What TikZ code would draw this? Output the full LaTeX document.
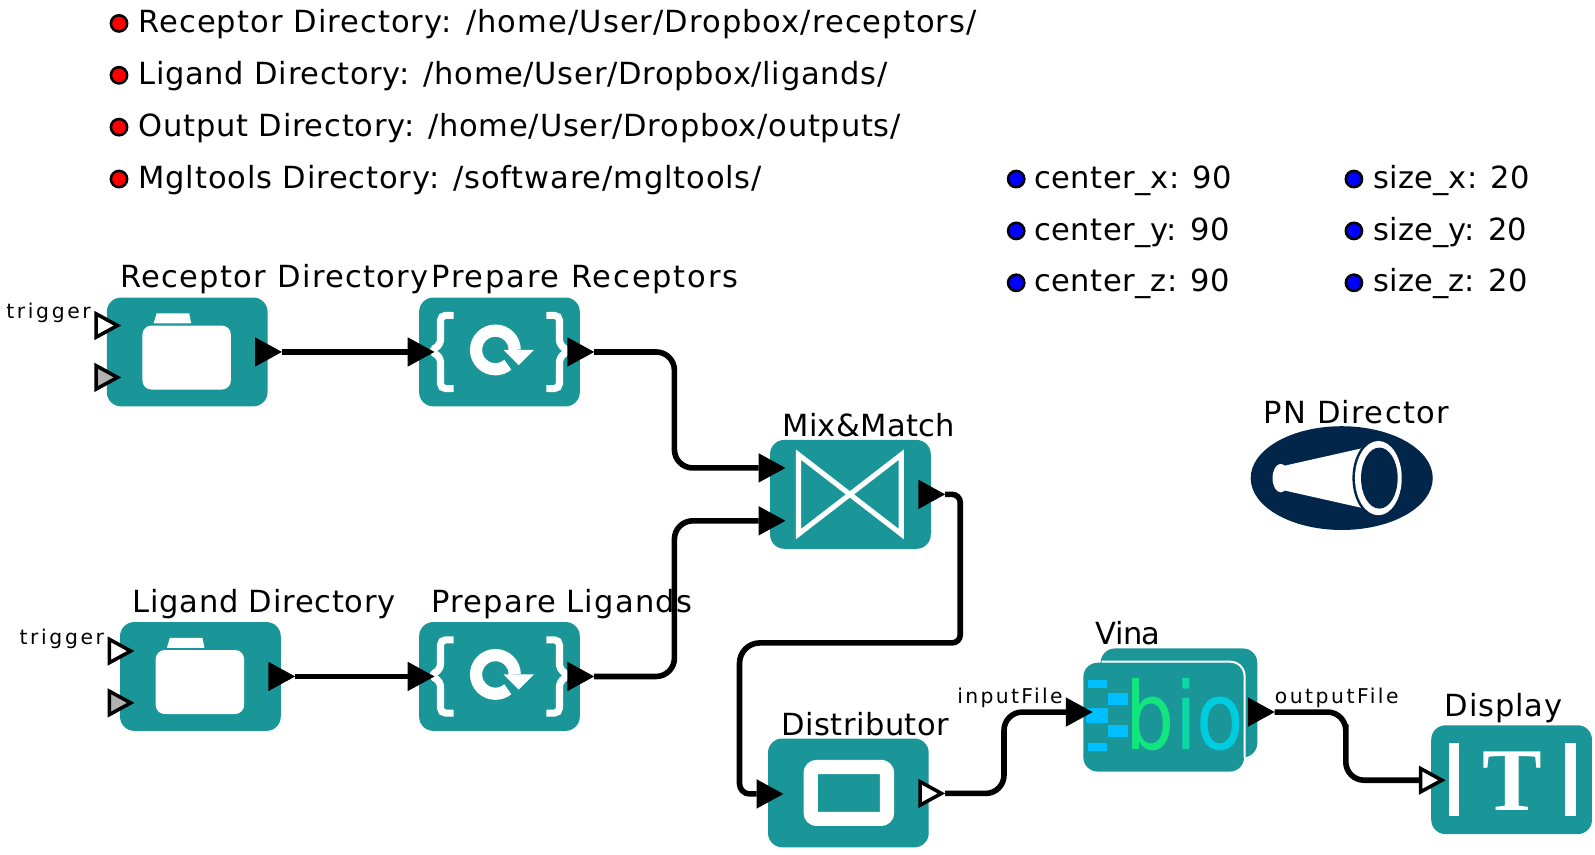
\documentclass[tikz,border=0pt]{standalone}
\usepackage{fontspec}
\setmainfont{DejaVu Sans}
\newfontfamily\logofont{Liberation Serif}
\usetikzlibrary{positioning,shapes.geometric}
\definecolor{actorteal}{HTML}{1A9699}
\definecolor{dirnavy}{HTML}{02254A}
\definecolor{biogreen}{HTML}{12E47E}
\definecolor{biomid}{HTML}{0BD9A8}
\definecolor{biocyan}{HTML}{00CCE0}
\definecolor{biobar}{HTML}{00BFFF}
\tikzset{
  actor/.style={fill=actorteal,rounded corners=14pt,minimum width=158pt,minimum height=107pt,inner sep=0pt},
  title/.style={font=\addfontfeature{LetterSpace=#1}\fontsize{30}{30}\selectfont,anchor=base west,inner sep=0pt},
  title/.default=3.5,
  portname/.style={font=\addfontfeature{LetterSpace=#1}\fontsize{20}{20}\selectfont,anchor=base west,inner sep=0pt},
  portname/.default=14,
  dot/.style={circle,draw=black,line width=2.5pt,minimum size=16pt,inner sep=0pt},
  port/.style={isosceles triangle,isosceles triangle apex angle=60,isosceles triangle stretches,
    minimum width=23pt,minimum height=21pt,inner sep=0pt,draw=black,line width=3.5pt,anchor=apex},
  wire/.style={line width=5.5pt,rounded corners=18pt},
  folder/.pic={
    \fill[white,rounded corners=9pt] (-44,-26) rectangle (43,37);
    \fill[white] (-33,-28) -- (-30,-38) -- (2,-38) -- (4,-28) -- cycle;
  },
  repeater/.pic={
    \draw[white,line width=7pt,rounded corners=5pt] (-45,-36) -- (-58,-36) -- (-58,-7) -- (-68,-1) -- (-58,5) -- (-58,36) -- (-45,36);
    \draw[white,line width=7pt,rounded corners=5pt] (46,-36) -- (59,-36) -- (59,-7) -- (68,-1) -- (59,5) -- (59,36) -- (46,36);
    \draw[white,line width=12pt] (15,-2) arc[start angle=0,end angle=310,radius=19pt];
    \fill[white] (4,-2) -- (34,-2) -- (19,13) -- cycle;
  }
}
\begin{document}
\begin{tikzpicture}[x=1pt,y=-1pt,on grid]
  \useasboundingbox (0,0) rectangle (1568,840.5);

  % parameters
  \foreach \i/\y/\ls/\txt in {a/32/3.5/{Receptor Directory: /home/User/Dropbox/receptors/},
      b/83/2.3/{Ligand Directory: /home/User/Dropbox/ligands/},
      c/134/2.5/{Output Directory: /home/User/Dropbox/outputs/},
      d/185/2.8/{Mgltools Directory: /software/mgltools/}} {
    \node[dot,fill=red] (dot\i) at (117,\y-9) {};
    \node[title=\ls] (par\i) at (136,\y) {\txt};
  }
  \foreach \i/\y/\txt in {a/185/center\_x: 90,b/236/center\_y: 90,c/287/center\_z: 90} {
    \node[dot,fill=blue] (dotc\i) at (999,\y-9) {};
    \node[title=1.2] (parc\i) at (1017,\y) {\txt};
  }
  \foreach \i/\y/\txt in {a/185/size\_x: 20,b/236/size\_y: 20,c/287/size\_z: 20} {
    \node[dot,fill=blue] (dots\i) at (1331,\y-9) {};
    \node[title=0.6] (pars\i) at (1350,\y) {\txt};
  }

  % actors
  \node[actor] (recdir) at (184,346) {};
  \node[actor] (preprec) [right=307pt of recdir] {};
  \node[actor] (preplig) [below=319pt of preprec] {};
  \node[actor] (ligdir) [left=294pt of preplig] {};
  \node[actor] (mix) at (836,486) {};
  \node[actor] (dist) at (834,779.5) {};
  \node[actor,minimum width=154pt] (vinaback) at (1159,691) {};
  \node[actor] (vina) at (1144,705) {};
  \node[actor] (disp) at (1486,766.5) {};

  \pic at (recdir) {folder};
  \pic at (ligdir) {folder};
  \pic at (preprec) {repeater};
  \pic at (preplig) {repeater};
  \draw[white,line width=5pt] (-51,-39) ++(836,486) -- ++(101,78) -- ++(0,-78) -- ++(-101,78) -- cycle;
  \draw[white,line width=14pt,rounded corners=6pt] (797,754) rectangle (872,805);
  \draw[white,line width=2pt,rounded corners=14pt] (1083,650.5) -- (1223.5,650.5) -- (1223.5,745);

  % bio logo
  \fill[biobar] (1070,668) rectangle (1088,676);
  \fill[biobar] (1089,681) rectangle (1109,693);
  \fill[biobar] (1068,696) rectangle (1089,711);
  \fill[biobar] (1089,713) rectangle (1109,725);
  \fill[biobar] (1070,730) rectangle (1088,738);
  \node[font=\fontsize{92}{92}\selectfont,xscale=0.83,anchor=base,inner sep=0pt] (biolbl) at (1165,737)
    {\color{biogreen}b\color{biomid}i\color{biocyan}o};

  % display logo
  \fill[white] (1424,730) rectangle (1434,802);
  \fill[white] (1538,730) rectangle (1549,802);
  \node[font=\logofont\bfseries\fontsize{88}{88}\selectfont,text=white,anchor=base,inner sep=0pt] (displbl) at (1487,797) {T};

  % director
  \node[ellipse,fill=dirnavy,minimum width=179pt,minimum height=102pt,inner sep=0pt] (director) at (1319,470) {};
  \fill[white] (1259,470) ellipse[x radius=8pt,y radius=14pt];
  \fill[white] (1262,458) -- (1342,440) -- (1342,500) -- (1262,482) -- cycle;
  \fill[dirnavy] (1355,470) ellipse[x radius=25.5pt,y radius=39pt];
  \fill[white] (1355,470) ellipse[x radius=23pt,y radius=36.5pt];
  \fill[dirnavy] (1356,470) ellipse[x radius=18pt,y radius=30pt];

  % titles
  \node[title=4.4] (recdirlbl) at (118,283) {Receptor Directory};
  \node[title=6] (preplbl) at (424,283) {Prepare Receptors};
  \node[title=1.2] (mixlbl) at (769,429) {Mix\&Match};
  \node[title=2.5] (ligdirlbl) at (130,602) {Ligand Directory};
  \node[title=3.9] (pliglbl) at (424,602) {Prepare Ligands};
  \node[title=1.6] (distlbl) at (768,723) {Distributor};
  \node[title=-2] (vinalbl) at (1077,634) {Vina};
  \node[title=3] (displaylbl) at (1420,704) {Display};
  \node[title=4.3] (dirlbl) at (1242,416) {PN Director};
  \node[portname=13] (trig1) at (6,313) {trigger};
  \node[portname=13] (trig2) at (19,633.5) {trigger};
  \node[portname=11.5] (inlbl) at (941,692) {inputFile};
  \node[portname=12.4] (outlbl) at (1253,692) {outputFile};

  % ports
  \node[port,fill=white] (rectrig) at (119,320) {};
  \node[port,fill=black!30] (recgray) at (119,371) {};
  \node[port,fill=white] (ligtrig) at (132,640) {};
  \node[port,fill=black!30] (liggray) at (132,691) {};
  \node[port,fill=black] (recout) at (277,346) {};
  \node[port,fill=black] (prin) at (427,346) {};
  \node[port,fill=black] (prout) at (584,346) {};
  \node[port,fill=black] (ligout) at (290,665) {};
  \node[port,fill=black] (plin) at (427,665) {};
  \node[port,fill=black] (plout) at (584,665) {};
  \node[port,fill=black] (mixa) at (772,460) {};
  \node[port,fill=black] (mixb) at (772,512) {};
  \node[port,fill=black] (mixout) at (929,486) {};
  \node[port,fill=black] (distin) at (770,780.5) {};
  \node[port,fill=white] (distout) at (929,780) {};
  \node[port,fill=black] (vinain) at (1074,700) {};
  \node[port,fill=black] (vinaout) at (1253,700) {};
  \node[port,fill=white] (dispin) at (1421,767) {};

  \coordinate (benda) at (663,400);
  \coordinate (bendb) at (663,600);
  \coordinate (bendc) at (944,632);
  \coordinate (bendd) at (727,700);
  \coordinate (bende) at (987,740);
  \coordinate (bendf) at (1323,730);

  \draw[wire] (recout.apex) -- (prin.lower side);
  \draw[wire] (ligout.apex) -- (plin.lower side);
  \draw[wire] (prout.apex) -| (benda) |- (mixa.lower side);
  \draw[wire] (plout.apex) -| (bendb) |- (mixb.lower side);
  \draw[wire,rounded corners=8pt] (mixout.apex) -| (bendc) [rounded corners=20pt] -| (bendd) [rounded corners=10pt] |- (distin.lower side);
  \draw[wire] (distout.apex) -| (bende) |- (vinain.lower side);
  \draw[wire] (vinaout.apex) -| (bendf) |- (dispin.lower side);
\end{tikzpicture}
\end{document}
